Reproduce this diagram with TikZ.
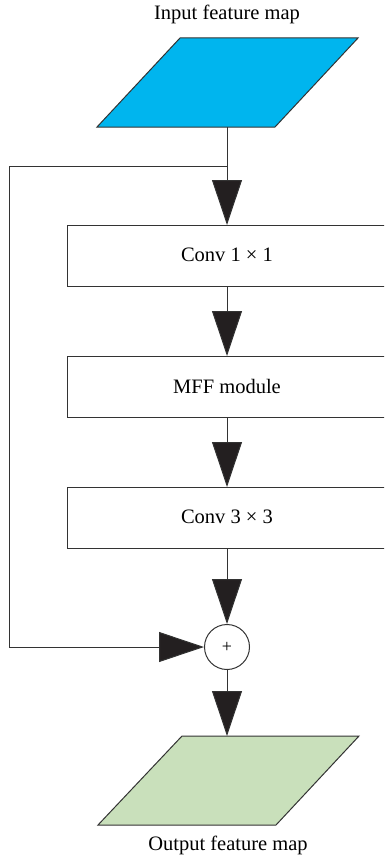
\documentclass[tikz,border=0pt]{standalone}
\usepackage{fontspec}
\setmainfont{Liberation Serif}
\usetikzlibrary{arrows.meta}
\definecolor{inblue}{HTML}{00B5EE}
\definecolor{outgreen}{HTML}{C9E0BB}
\definecolor{tipgray}{HTML}{231F20}
\definecolor{edgegray}{HTML}{333333}
\tikzset{
  flow/.style={draw=edgegray, line width=1pt,
    -{Triangle[length=45pt,width=30pt,fill=tipgray]}},
  stage/.style={draw=edgegray, line width=1pt, fill=white, inner sep=0pt,
    minimum width=320pt, minimum height=61pt},
  label/.style={font=\fontsize{20.5}{24}\selectfont, inner sep=0pt},
  fmap/.style={draw=edgegray, line width=1pt}
}
\begin{document}
\begin{tikzpicture}[x=1pt,y=-1pt]
  \useasboundingbox (0,0) rectangle (384,859);
  \clip (0,0) rectangle (384,859);

  % input feature map
  \node[label] (intxt) at (227,14) {Input feature map};
  \draw[fmap, fill=inblue] (180,38) -- (358,38) -- (275,127) -- (97,127) -- cycle;
  \coordinate (inbot) at (227,127);

  % processing stages
  \node[stage, anchor=north west] (c1) at (67,225) {};
  \node[label] (c1t) at (227,255) {Conv 1 × 1};
  \node[stage, anchor=north west] (mff) at (67,356) {};
  \node[label] (mfft) at (227,386) {MFF module};
  \node[stage, anchor=north west] (c3) at (67,487) {};
  \node[label] (c3t) at (227,517) {Conv 3 × 3};

  % summation
  \node[draw=edgegray, line width=1pt, circle, minimum size=45pt, inner sep=0pt,
        font=\fontsize{18}{20}\selectfont] (sum) at (227,647) {+};

  % output feature map
  \draw[fmap, fill=outgreen] (182,736) -- (359,736) -- (276,825) -- (98,825) -- cycle;
  \coordinate (outtop) at (227,736);
  \node[label] (outtxt) at (228,845) {Output feature map};

  % connectors
  \coordinate (split) at (227,166);
  \coordinate (c1top) at (227,225);
  \coordinate (mfftop) at (227,356);
  \coordinate (c3top) at (227,487);
  \coordinate (c1bot) at (227,286);
  \coordinate (mffbot) at (227,417);
  \coordinate (c3bot) at (227,548);
  \draw[flow] (inbot) -- (c1top);
  \draw[flow] (c1bot) -- (mfftop);
  \draw[flow] (mffbot) -- (c3top);
  \draw[flow] (c3bot) -- (sum.north);
  \draw[flow] (sum.south) -- (outtop);
  \coordinate (loop) at (9,166);
  \draw[flow] (split) -- (loop) |- (sum.west);
\end{tikzpicture}
\end{document}
